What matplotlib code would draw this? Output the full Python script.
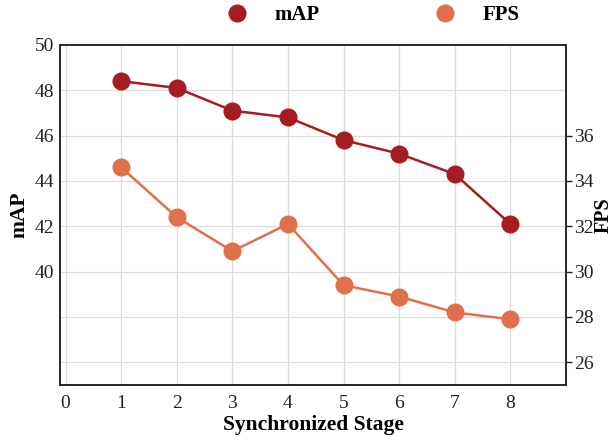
import matplotlib
matplotlib.use("Agg")
import matplotlib.pyplot as plt
from matplotlib.lines import Line2D

# data
stages = [1, 2, 3, 4, 5, 6, 7, 8]
map_values = [48.4, 48.1, 47.1, 46.8, 45.8, 45.2, 44.3, 42.1]
fps_values = [34.6, 32.4, 30.9, 32.1, 29.4, 28.9, 28.2, 27.9]
x_ticks = [0, 1, 2, 3, 4, 5, 6, 7, 8]
map_ticks = [36, 38, 40, 42, 44, 46, 48, 50]
map_tick_labels = ["", "", "40", "42", "44", "46", "48", "50"]
fps_ticks = [26, 28, 30, 32, 34, 36]

MAP_COLOR = "#a51c21"
FPS_COLOR = "#e0704c"

plt.rcParams["font.family"] = ["Liberation Serif", "DejaVu Serif"]

fig = plt.figure(figsize=(6.16, 4.40), dpi=100)
ax = fig.add_axes([0.0974, 0.125, 0.8214, 0.773])
ax2 = ax.twinx()

ax.plot(stages, map_values, color=MAP_COLOR, lw=1.8, marker="o", ms=12, zorder=3)
ax2.plot(stages, fps_values, color=FPS_COLOR, lw=1.8, marker="o", ms=12, zorder=3)

ax.set_xlim(-0.1, 9.0)
ax.set_ylim(35, 50)
ax2.set_ylim(25, 40)

ax.set_xticks(x_ticks)
ax.set_yticks(map_ticks)
ax.set_yticklabels(map_tick_labels)
ax2.set_yticks(fps_ticks)

ax.grid(True, color="#dcdcdc", lw=0.9)
ax.set_axisbelow(True)

ax.tick_params(axis="x", length=0, labelsize=14, colors="#222222", pad=7)
ax.tick_params(axis="y", length=0, labelsize=14, colors="#222222", pad=4)
ax2.tick_params(axis="y", length=4, width=1, labelsize=14, colors="#222222", pad=2)

for a in (ax, ax2):
    for sp in a.spines.values():
        sp.set_color("#222222")
        sp.set_linewidth(1.1)

ax.set_xlabel("Synchronized Stage", fontsize=15.5, fontweight="bold", labelpad=2)
ax.set_ylabel("mAP", fontsize=15.5, fontweight="bold", labelpad=4)
ax2.set_ylabel("FPS", fontsize=14.5, fontweight="bold", labelpad=0)

handles = [
    Line2D([], [], color=MAP_COLOR, marker="o", ms=12, lw=0),
    Line2D([], [], color=FPS_COLOR, marker="o", ms=12, lw=0),
]
fig.legend(handles, ["mAP", "FPS"], loc="center", bbox_to_anchor=(0.597, 0.966),
           ncol=2, frameon=False, columnspacing=5.0, handletextpad=0.8,
           prop={"size": 15, "weight": "bold"})

fig.savefig("out.png", dpi=100)
